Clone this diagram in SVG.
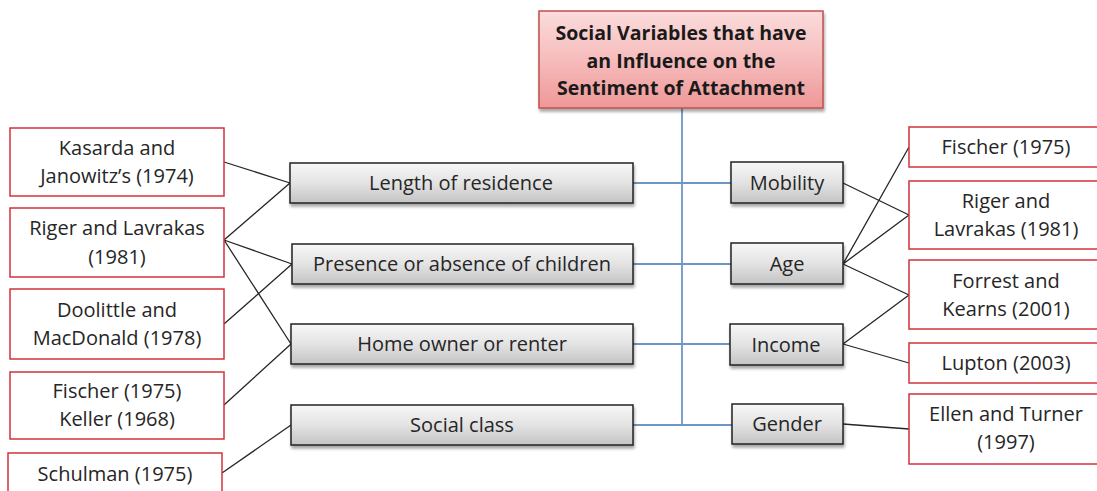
<svg xmlns="http://www.w3.org/2000/svg" width="1097" height="491" viewBox="0 0 1097 491">
<defs>
<linearGradient id="gGray" x1="0" y1="0" x2="0" y2="1">
<stop offset="0" stop-color="#f7f7f7"/>
<stop offset="0.5" stop-color="#e3e3e3"/>
<stop offset="1" stop-color="#c4c4c4"/>
</linearGradient>
<linearGradient id="gPink" x1="0" y1="0" x2="0" y2="1">
<stop offset="0" stop-color="#fbdcdc"/>
<stop offset="0.5" stop-color="#f6bcbc"/>
<stop offset="1" stop-color="#ef9797"/>
</linearGradient>
<filter id="sh" x="-10%" y="-20%" width="130%" height="160%">
<feGaussianBlur in="SourceAlpha" stdDeviation="1.5"/>
<feOffset dx="1" dy="3" result="b"/>
<feComponentTransfer><feFuncA type="linear" slope="0.35"/></feComponentTransfer>
<feMerge><feMergeNode/><feMergeNode in="SourceGraphic"/></feMerge>
</filter>
</defs>
<style>
.ref{fill:#ffffff;stroke:#d0333a;stroke-width:1.5}
.var{fill:url(#gGray);stroke:#222;stroke-width:1.5;filter:url(#sh)}
.title{fill:url(#gPink);stroke:#c0504d;stroke-width:1.5;filter:url(#sh)}
text{font-family:"Open Sans","Liberation Sans",sans-serif;font-size:20px;fill:#262626;text-anchor:middle}
.tt{font-weight:bold;font-size:19.5px;fill:#1a1a1a}
.blk{stroke:#262626;stroke-width:1.3;fill:none}
.blu{stroke:#6d95c9;stroke-width:1.8;fill:none}
</style>
<rect width="1097" height="491" fill="#ffffff"/>
<g id="connectors">
<path class="blu" d="M682,108 V425 M633,183 H731 M633,264 H731 M633,344 H730 M633,425 H732"/>
<path class="blk" d="M224,162 L290,183 M224,240 L290,183 M224,240 L292,264 M224,240 L291,344 M224,324 L292,264 M224,405 L291,344 M222,473 L291,425"/>
<path class="blk" d="M843,183 L909,215 M843,264 L909,147 M843,264 L909,215 M843,264 L909,295 M843,344 L909,295 M843,344 L909,363 M843,424 L909,429"/>
</g>
<g id="title">
<rect class="title" x="539" y="11" width="284" height="97"/>
<text class="tt" x="681" y="40">Social Variables that have</text>
<text class="tt" x="681" y="68">an Influence on the</text>
<text class="tt" x="681" y="95">Sentiment of Attachment</text>
</g>
<g id="var-length"><rect class="var" x="290" y="163" width="343" height="40"/><text x="461" y="190">Length of residence</text></g>
<g id="var-children"><rect class="var" x="292" y="244" width="341" height="40"/><text x="462" y="271">Presence or absence of children</text></g>
<g id="var-home"><rect class="var" x="291" y="324" width="342" height="40"/><text x="462" y="351">Home owner or renter</text></g>
<g id="var-class"><rect class="var" x="291" y="405" width="342" height="40"/><text x="462" y="432">Social class</text></g>
<g id="var-mobility"><rect class="var" x="731" y="162" width="112" height="41"/><text x="787" y="190">Mobility</text></g>
<g id="var-age"><rect class="var" x="731" y="243" width="112" height="41"/><text x="787" y="271">Age</text></g>
<g id="var-income"><rect class="var" x="730" y="324" width="113" height="41"/><text x="786" y="352">Income</text></g>
<g id="var-gender"><rect class="var" x="732" y="404" width="111" height="40"/><text x="787" y="431">Gender</text></g>
<g id="ref-kasarda"><rect class="ref" x="10" y="128" width="214" height="68"/><text x="117" y="155">Kasarda and</text><text x="117" y="183">Janowitz’s (1974)</text></g>
<g id="ref-riger-left"><rect class="ref" x="10" y="208" width="214" height="69"/><text x="117" y="235">Riger and Lavrakas</text><text x="117" y="264">(1981)</text></g>
<g id="ref-doolittle"><rect class="ref" x="10" y="289" width="214" height="70"/><text x="117" y="317">Doolittle and</text><text x="117" y="345">MacDonald (1978)</text></g>
<g id="ref-fischer-keller"><rect class="ref" x="10" y="372" width="214" height="67"/><text x="117" y="398">Fischer (1975)</text><text x="117" y="426">Keller (1968)</text></g>
<g id="ref-schulman"><rect class="ref" x="8" y="453" width="214" height="50"/><text x="115" y="481">Schulman (1975)</text></g>
<g id="ref-fischer-right"><rect class="ref" x="909" y="127" width="200" height="40"/><text x="1006" y="154">Fischer (1975)</text></g>
<g id="ref-riger-right"><rect class="ref" x="909" y="181" width="200" height="68"/><text x="1006" y="208">Riger and</text><text x="1006" y="236">Lavrakas (1981)</text></g>
<g id="ref-forrest"><rect class="ref" x="909" y="260" width="200" height="69"/><text x="1006" y="288">Forrest and</text><text x="1006" y="316">Kearns (2001)</text></g>
<g id="ref-lupton"><rect class="ref" x="909" y="343" width="200" height="40"/><text x="1006" y="370">Lupton (2003)</text></g>
<g id="ref-ellen"><rect class="ref" x="909" y="394" width="200" height="70"/><text x="1006" y="421">Ellen and Turner</text><text x="1006" y="449">(1997)</text></g>
</svg>
